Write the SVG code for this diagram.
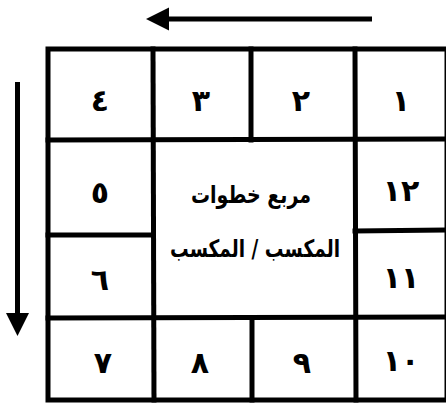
<svg xmlns="http://www.w3.org/2000/svg" width="446" height="403" viewBox="0 0 446 403">
<style>
.g{stroke:#000;stroke-width:5;fill:none;stroke-linecap:square}
.a{stroke:#000;stroke-width:5;fill:none}
.d{font-family:"DejaVu Sans",sans-serif;font-weight:bold;font-size:30px;text-anchor:middle;fill:#000}
.c{font-family:"DejaVu Sans",sans-serif;font-weight:bold;font-size:24px;text-anchor:middle;fill:#000}
</style>
<defs>
<marker id="ah" viewBox="0 0 10 10" refX="0" refY="5" markerWidth="4.6" markerHeight="5" markerUnits="strokeWidth" orient="auto">
<path d="M0,0 L10,5 L0,10 z" fill="#000"/>
</marker>
</defs>
<rect width="446" height="403" fill="#fff"/>
<g id="connectors">
<line class="a" x1="372" y1="19" x2="169" y2="19" marker-end="url(#ah)"/>
<line class="a" x1="17.5" y1="82" x2="17.5" y2="313" marker-end="url(#ah)"/>
</g>
<g id="grid">
<rect class="g" x="48" y="49" width="399" height="351"/>
<line class="g" x1="48" y1="140" x2="447" y2="139"/>
<line class="g" x1="48" y1="318" x2="447" y2="317"/>
<line class="g" x1="153" y1="49" x2="154" y2="400"/>
<line class="g" x1="355" y1="49" x2="356" y2="400"/>
<line class="g" x1="251" y1="49" x2="251" y2="140"/>
<line class="g" x1="252" y1="318" x2="252" y2="400"/>
<line class="g" x1="48" y1="235" x2="153" y2="235"/>
<line class="g" x1="355" y1="231" x2="447" y2="230"/>
</g>
<g id="c1"><text class="d" x="100" y="111">٤</text></g>
<g id="c2"><text class="d" x="201" y="111">٣</text></g>
<g id="c3"><text class="d" x="301" y="111">٢</text></g>
<g id="c4"><text class="d" x="401" y="111">١</text></g>
<g id="c5"><text class="d" x="100" y="203">٥</text></g>
<g id="c6"><text class="d" x="401" y="201">١٢</text></g>
<g id="c7"><text class="d" x="100" y="290">٦</text></g>
<g id="c8"><text class="d" x="401" y="288">١١</text></g>
<g id="c9"><text class="d" x="103" y="373">٧</text></g>
<g id="c10"><text class="d" x="200" y="373">٨</text></g>
<g id="c11"><text class="d" x="302" y="373">٩</text></g>
<g id="c12"><text class="d" x="401" y="371">١٠</text></g>
<g id="center">
<text class="c" x="251" y="203" direction="rtl" textLength="120" lengthAdjust="spacingAndGlyphs">مربع خطوات</text>
<text class="c" x="255" y="257" direction="rtl" textLength="170" lengthAdjust="spacingAndGlyphs">المكسب / المكسب</text>
</g>
</svg>
